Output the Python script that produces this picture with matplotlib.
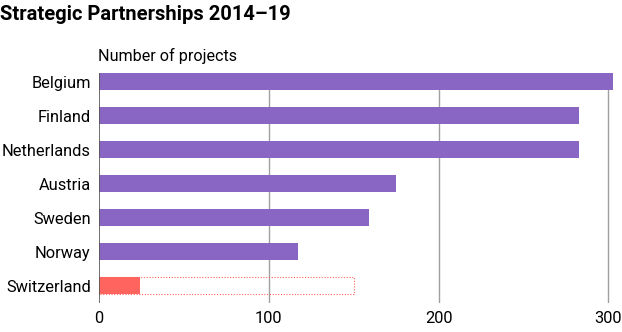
import matplotlib.pyplot as plt
import numpy as np

# ---------- Dane ----------
countries = ["Belgium", "Finland", "Netherlands", "Austria", "Sweden", "Norway", "Switzerland"]
projects = [303, 283, 283, 175, 159, 117, 24]
swiss_potential = 150
xticks = [0, 100, 200, 300]

purple = "#8a66c4"
red = "#ff645f"

plt.rcParams["font.family"] = ["Roboto", "DejaVu Sans"]

fig = plt.figure(figsize=(6.22, 3.32), dpi=100)
# axes spans from top of first bar (y=73px) to y=303px
ax = fig.add_axes([99 / 622, (332 - 303) / 332, (616 - 99) / 622, (303 - 73) / 332])

y = np.arange(len(countries))
colors = [purple] * (len(countries) - 1) + [red]

# dotted outline for Switzerland
ax.barh(y[-1], swiss_potential, height=0.5, fill=False, edgecolor=red,
        linestyle=(0, (1, 1.5)), linewidth=0.8, zorder=2)
ax.barh(y, projects, height=0.5, color=colors, zorder=3)

ax.set_xlim(0, 304.5)
ax.set_ylim(6.5, -0.25)
ax.set_xticks(xticks)
ax.set_yticks(y)
ax.set_yticklabels(countries, fontsize=11.8)
ax.tick_params(axis="x", labelsize=11.8, length=0, pad=6)
ax.tick_params(axis="y", length=0, pad=6)

for t in xticks[1:]:
    ax.axvline(t, color="#a0a0a0", linewidth=1, zorder=1)
ax.axvline(0, color="#555555", linewidth=1.2, zorder=4)

for s in ax.spines.values():
    s.set_visible(False)

fig.text(0.0, 1 - 15 / 332, "Strategic Partnerships 2014\u201319", fontsize=14.5,
         fontweight="bold", va="center", ha="left")
fig.text(98 / 622, 1 - 56 / 332, "Number of projects", fontsize=11.6, va="center", ha="left")

plt.savefig("out.png", dpi=100)
